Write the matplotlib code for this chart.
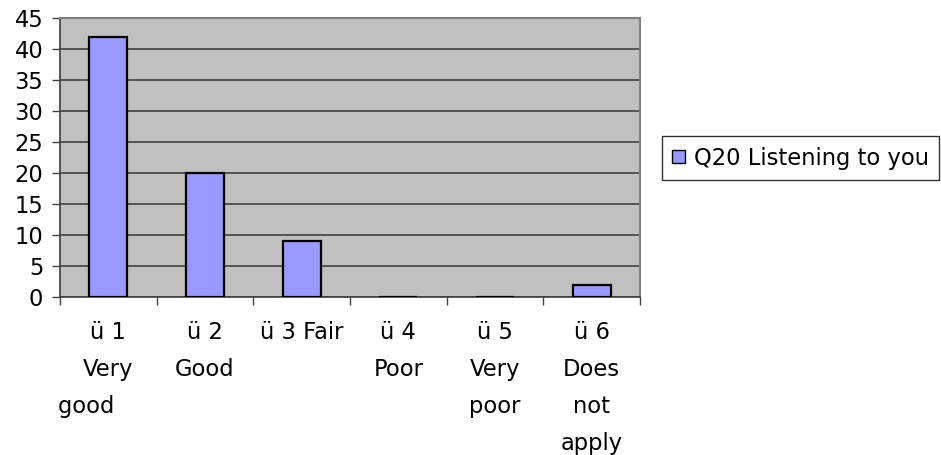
import numpy as np
import matplotlib
matplotlib.use("Agg")
import matplotlib.pyplot as plt
from matplotlib.patches import Patch

plt.rcParams['font.family'] = ['DejaVu Sans']

categories = ["ü 1\nVery\ngood      ", "ü 2\nGood", "ü 3 Fair", "ü 4\nPoor",
              "ü 5\nVery\npoor", "ü 6\nDoes\nnot\napply"]
values = [42, 20, 9, 0, 0, 2]
series_name = "Q20 Listening to you"
yticks = [0, 5, 10, 15, 20, 25, 30, 35, 40, 45]

W, H = 941, 455
FS = 16.3
fig = plt.figure(figsize=(W / 100, H / 100), dpi=100)
ax = fig.add_axes([60 / W, 1 - 297 / H, 580 / W, 279 / H])
ax.set_facecolor('#C0C0C0')

x = np.arange(len(values))
ax.bar(x, values, width=0.39, color='#9999FF', edgecolor='black',
       linewidth=1.6, zorder=3)

ax.set_xlim(-0.5, len(values) - 0.5)
ax.set_ylim(0, 45)
ax.set_yticks(yticks)
ax.yaxis.grid(True, color='#404040', linewidth=1.2, zorder=1)
ax.tick_params(axis='y', labelsize=FS, length=6, width=1, color='#404040',
               pad=6)

ax.set_xticks(x)
ax.set_xticklabels(categories, fontsize=FS, linespacing=1.77)
ax.tick_params(axis='x', length=0, pad=17.5)
ax.set_xticks(np.arange(-0.5, len(values)), minor=True)
ax.tick_params(axis='x', which='minor', length=6, width=1, color='#404040')

for side in ['top', 'right']:
    ax.spines[side].set_color('#808080')
    ax.spines[side].set_linewidth(1.5)
for side in ['left', 'bottom']:
    ax.spines[side].set_color('#404040')
    ax.spines[side].set_linewidth(1.2)

handle = Patch(facecolor='#9999FF', edgecolor='black', linewidth=1)
fig.legend([handle], [series_name], loc='center left',
           bbox_to_anchor=(662 / W, 1 - 158 / H), fontsize=FS,
           frameon=True, fancybox=False, edgecolor='black',
           handlelength=0.55, handleheight=0.55, handletextpad=0.4,
           borderpad=0.45, borderaxespad=0)

fig.savefig('out.png', dpi=100)
